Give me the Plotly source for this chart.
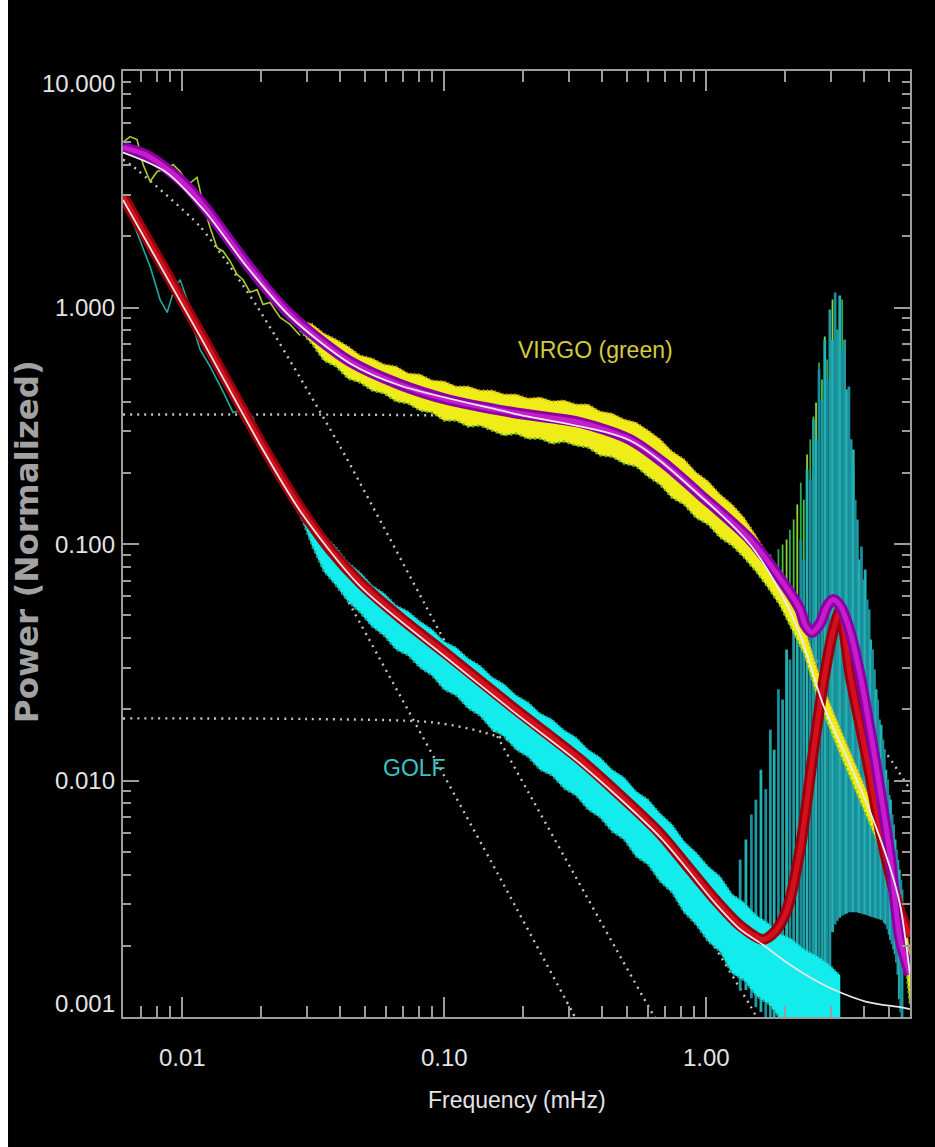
import math
import plotly.graph_objects as go

# ---------------- data (frequency in mHz, normalized power) ----------------
# fitted model for VIRGO (magenta)
virgo_fit_f = [0.00595, 0.007226, 0.008613, 0.010267, 0.01224, 0.01459, 0.01740, 0.02111, 0.02584, 0.03162,
               0.04378, 0.06793, 0.1027, 0.1834, 0.3304, 0.5128, 0.6853, 0.9487, 1.472, 1.967,
               2.285, 2.387, 2.539, 2.723, 2.896, 3.053, 3.247, 3.545, 3.871, 4.227,
               4.615, 5.039, 5.503, 6.006]
virgo_fit_p = [4.748, 4.436, 3.908, 3.312, 2.648, 2.036, 1.565, 1.192, 0.9342, 0.7690,
               0.5909, 0.4725, 0.4083, 0.3597, 0.3264, 0.2765, 0.2212, 0.1619, 0.1045, 0.06875,
               0.05285, 0.04566, 0.04224, 0.04611, 0.05442, 0.05826, 0.05495, 0.04266, 0.02806, 0.01643,
               0.00916, 0.004864, 0.002127, 0.001512]

# fitted model for GOLF (red)
golf_fit_f = [0.00595, 0.00824, 0.01171, 0.02038, 0.02821, 0.03672, 0.04779, 0.06793, 0.1027, 0.1834,
              0.3304, 0.5128, 0.6674, 0.8688, 1.0823, 1.348, 1.650, 1.834, 2.038, 2.285,
              2.561, 2.797, 3.053, 3.247, 3.545, 4.117, 4.738, 5.503, 6.006]
golf_fit_p = [2.946, 1.565, 0.7839, 0.2584, 0.1427, 0.09478, 0.06875, 0.04888, 0.03410, 0.02035,
              0.01227, 0.007914, 0.005970, 0.004205, 0.003139, 0.002437, 0.002127, 0.002298, 0.002848, 0.005107,
              0.01288, 0.02546, 0.04266, 0.05184, 0.02806, 0.01227, 0.005363, 0.002793, 0.00219]

# background models (white)
virgo_bg_f = [0.00595, 0.008613, 0.01224, 0.0174, 0.02584, 0.04378, 0.0679, 0.183, 0.513, 0.949,
              1.472, 1.916, 2.285, 2.797, 3.545, 4.227, 5.039, 5.503, 6.006]
virgo_bg_p = [4.52, 3.76, 2.546, 1.519, 0.916, 0.580, 0.468, 0.357, 0.274, 0.160,
              0.0995, 0.0630, 0.0414, 0.0210, 0.0117, 0.00739, 0.00429, 0.00299, 0.00151]
golf_bg_f = [0.00595, 0.0117, 0.0204, 0.02821, 0.04779, 0.1027, 0.1834, 0.3304, 0.6674, 1.0823,
             1.348, 1.65, 2.0, 2.5, 3.05, 4.1, 5.5, 6.006]
golf_bg_p = [2.85, 0.757, 0.249, 0.138, 0.0663, 0.0329, 0.0196, 0.0118, 0.00576, 0.00303,
             0.00235, 0.00202, 0.00172, 0.00147, 0.00131, 0.00116, 0.00110, 0.00108]

# individual background components (dotted)
comp_virgo_gran_f = [0.00595, 0.1054, 0.2538, 0.5128, 1.0, 1.608, 2.723, 3.871, 4.907, 6.006]
comp_virgo_gran_p = [0.353, 0.349, 0.336, 0.2765, 0.170, 0.0860, 0.0309, 0.0181, 0.0129, 0.00916]
comp_golf_gran_f = [0.00595, 0.0300, 0.0908, 0.1409, 0.2538, 0.5128, 0.8462, 1.036, 1.472, 1.60]
comp_golf_gran_p = [0.0183, 0.0182, 0.0176, 0.0160, 0.01255, 0.00638, 0.0030, 0.00213, 0.00112, 0.00095]
comp_virgo_low_f = [0.00595, 0.0065, 0.01171, 0.01933, 0.04009, 0.1082, 0.6276, 0.796]
comp_virgo_low_p = [4.225, 3.947, 2.200, 1.010, 0.2584, 0.03345, 0.001025, 0.00066]
comp_golf_low_f = [0.00595, 0.02038, 0.02821, 0.04264, 0.1594, 0.308, 0.3607]
comp_golf_low_p = [2.862, 0.2461, 0.1319, 0.05826, 0.004083, 0.001055, 0.000765]

# measured spectra: low-frequency traces
virgo_low_f = [0.00595, 0.00633, 0.00673, 0.00710, 0.00755, 0.00803, 0.00861, 0.00924, 0.00983, 0.01054,
               0.01141, 0.01203, 0.01279, 0.01360, 0.01434, 0.01525, 0.01621, 0.01709, 0.01817, 0.01933,
               0.02038, 0.02167, 0.02366, 0.02584, 0.02821]
virgo_low_p = [4.99, 5.28, 5.13, 4.02, 3.41, 3.76, 3.83, 4.02, 3.76, 3.31,
               3.55, 2.73, 2.18, 1.79, 1.73, 1.57, 1.38, 1.31, 1.16, 1.19,
               1.03, 1.05, 0.907, 0.848, 0.761]
golf_low_f = [0.00595, 0.00673, 0.00755, 0.00824, 0.00877, 0.00932, 0.00983, 0.01045, 0.01111, 0.01171,
              0.01279, 0.01434, 0.01565, 0.01709, 0.01866, 0.01985, 0.02167, 0.02366, 0.02584, 0.02821]
golf_low_p = [2.95, 2.08, 1.49, 1.08, 0.953, 1.19, 1.31, 1.08, 0.807, 0.665,
              0.563, 0.441, 0.360, 0.370, 0.343, 0.258, 0.239, 0.207, 0.162, 0.140]

# measured spectra: scatter envelopes (upper / lower) above 0.028 mHz
band_f = [0.0282, 0.0314, 0.0348, 0.0387, 0.0430, 0.0478, 0.0531, 0.0590, 0.0656, 0.0729,
          0.0810, 0.0900, 0.1000, 0.1111, 0.1235, 0.1372, 0.1525, 0.1694, 0.1883, 0.2092,
          0.2325, 0.2584, 0.2871, 0.3190, 0.3545, 0.3939, 0.4377, 0.4864, 0.5405, 0.6006,
          0.6674, 0.7416, 0.8241, 0.9158, 1.018, 1.131, 1.257, 1.396, 1.552, 1.724,
          1.916, 2.129, 2.366, 2.629, 2.922, 3.247, 3.608, 4.009, 4.455, 4.951,
          5.503, 5.801, 6.006]
virgo_hi = [0.880, 0.850, 0.776, 0.732, 0.684, 0.627, 0.609, 0.574, 0.563, 0.526,
            0.521, 0.491, 0.487, 0.463, 0.463, 0.446, 0.446, 0.429, 0.429, 0.412,
            0.416, 0.401, 0.404, 0.389, 0.389, 0.363, 0.356, 0.336, 0.326, 0.302,
            0.277, 0.246, 0.228, 0.2005, 0.184, 0.162, 0.147, 0.129, 0.108, 0.0886,
            0.0736, 0.0577, 0.0448, 0.0306, 0.0220, 0.0166, 0.0126, 0.00953, 0.00725, 0.00506,
            0.00336, 0.00244, 0.00184]
virgo_lo = [0.800, 0.700, 0.597, 0.563, 0.501, 0.482, 0.446, 0.433, 0.401, 0.393,
            0.367, 0.360, 0.333, 0.333, 0.314, 0.317, 0.302, 0.288, 0.293, 0.279,
            0.279, 0.266, 0.271, 0.261, 0.256, 0.237, 0.234, 0.219, 0.213, 0.193,
            0.1785, 0.157, 0.147, 0.129, 0.121, 0.1065, 0.0986, 0.0877, 0.0765, 0.0655,
            0.0550, 0.0435, 0.0344, 0.0236, 0.0173, 0.0130, 0.0099, 0.00747, 0.00569, 0.00393,
            0.00246, 0.00162, 0.00113]
golf_hi = [0.146, 0.128, 0.1086, 0.0967, 0.0835, 0.0758, 0.0668, 0.0618, 0.0550, 0.0518,
           0.0470, 0.0435, 0.0387, 0.0365, 0.0328, 0.0306, 0.0273, 0.0255, 0.0229, 0.0214,
           0.0192, 0.0181, 0.0163, 0.0152, 0.0135, 0.0125, 0.0111, 0.0103, 0.00899, 0.00831,
           0.00725, 0.00652, 0.00552, 0.00496, 0.00433, 0.00393, 0.00330, 0.00305, 0.00269, 0.00249,
           0.00225, 0.00213, 0.00193, 0.00182, 0.00168, 0.00150]
golf_lo = [0.134, 0.098, 0.0765, 0.0668, 0.0571, 0.0513, 0.0448, 0.0410, 0.0358, 0.0338,
           0.0300, 0.0278, 0.02425, 0.0229, 0.0202, 0.0188, 0.0164, 0.0154, 0.0135, 0.0126,
           0.0111, 0.0105, 0.00925, 0.00864, 0.00754, 0.00698, 0.00609, 0.00563, 0.00477, 0.00441,
           0.00374, 0.00336, 0.00277, 0.00246, 0.00209, 0.00189, 0.00153, 0.00143, 0.00123, 0.00114,
           0.00099, 0.00096, 0.00084, 0.00084, 0.00079, 0.00084]

# p-mode peaks
mode_f = [1.35, 1.42, 1.49, 1.55, 1.62, 1.69, 1.76, 1.82, 1.89, 1.96,
          2.03, 2.09, 2.16, 2.23, 2.30, 2.36, 2.43, 2.50, 2.57, 2.63,
          2.70, 2.77, 2.84, 2.90, 2.97, 3.04, 3.11, 3.17, 3.24, 3.31,
          3.38, 3.44, 3.51, 3.58, 3.65, 3.71, 3.78, 3.85, 3.92, 3.98,
          4.05, 4.12, 4.19, 4.25, 4.32, 4.39, 4.46, 4.52, 4.59, 4.66,
          4.73, 4.79, 4.86, 4.93, 5.00, 5.06, 5.13, 5.20, 5.27, 5.33,
          5.40, 5.47, 5.54, 5.60]
golf_mode_top = [0.00463, 0.00563, 0.00718, 0.0083, 0.0111, 0.0092, 0.0164, 0.0135, 0.0243, 0.022,
                 0.0358, 0.0325, 0.0582, 0.0529, 0.1045, 0.086, 0.2065, 0.1874, 0.336, 0.2767,
                 0.547, 0.408, 0.732, 0.496, 0.98, 0.73, 1.157, 0.807, 1.124, 0.664,
                 0.73, 0.45, 0.463, 0.277, 0.251, 0.154, 0.127, 0.086, 0.0976, 0.0708,
                 0.078, 0.0582, 0.0529, 0.0395, 0.0358, 0.0295, 0.0243, 0.022, 0.0181, 0.0172,
                 0.0149, 0.0135, 0.0111, 0.0101, 0.0087, 0.0083, 0.0072, 0.00652, 0.00563, 0.0051,
                 0.00463, 0.0042, 0.0038, 0.00346]
golf_mode_base = [0.0013, 0.0013, 0.0012, 0.0011, 0.00105, 0.00095, 0.00095, 0.00095, 0.00095, 0.00095,
                  0.00095, 0.00095, 0.00095, 0.00095, 0.00095, 0.00095, 0.00095, 0.00095, 0.00095, 0.00095,
                  0.00095, 0.00095, 0.00095, 0.00095, 0.0013, 0.00228, 0.00246, 0.00255, 0.00263, 0.00268,
                  0.00271, 0.00274, 0.00277, 0.00277, 0.00277, 0.00277, 0.00277, 0.00275, 0.00274, 0.00272,
                  0.00271, 0.00269, 0.00268, 0.00266, 0.00265, 0.00263, 0.00262, 0.0026, 0.00259, 0.00258,
                  0.00256, 0.0025, 0.00246, 0.00235, 0.00223, 0.00212, 0.00203, 0.00193, 0.00184, 0.0017,
                  0.00151, 0.00119, 0.00105, 0.00095]
virgo_mode_f = [1.76, 1.82, 1.89, 1.96, 2.03, 2.09, 2.16, 2.23, 2.30, 2.36,
                2.43, 2.50, 2.57, 2.63, 2.70, 2.77, 2.84, 2.90, 2.97, 3.04,
                3.11, 3.17, 3.24, 3.31, 3.38, 3.44, 3.51, 3.58, 3.65, 3.71,
                3.78, 3.85, 3.92, 3.98, 4.05, 4.12, 4.19, 4.25, 4.32, 4.39, 4.46]
virgo_mode_top = [0.0903, 0.082, 0.095, 0.0995, 0.1045, 0.115, 0.127, 0.147, 0.182, 0.154,
                  0.239, 0.277, 0.346, 0.397, 0.585, 0.496, 0.754, 0.603, 0.89, 1.08,
                  0.807, 0.73, 0.98, 1.08, 0.73, 0.408, 0.336, 0.228, 0.207, 0.127,
                  0.1045, 0.0708, 0.058, 0.048, 0.0395, 0.0358, 0.027, 0.022, 0.0181, 0.0149, 0.0123]
virgo_mode_base = [0.0648, 0.0612, 0.0577, 0.0534, 0.0503, 0.0475, 0.0439, 0.0414, 0.0383, 0.0358,
                   0.0325, 0.0295, 0.0267, 0.0243, 0.0222, 0.0202, 0.0185, 0.0174, 0.0163, 0.0154,
                   0.0145, 0.0138, 0.0128, 0.0122, 0.0114, 0.0107, 0.0102, 0.0096, 0.0092, 0.0087,
                   0.0082, 0.0078, 0.0074, 0.0070, 0.0067, 0.0064, 0.0060, 0.0057, 0.0055, 0.0053, 0.0050]

# axis ticks / labels
x_range = [0.00595, 6.006]
y_range = [0.001, 10.0]
x_tick_vals = [0.01, 0.1, 1.0]
x_tick_text = ["0.01", "0.10", "1.00"]
y_tick_vals = [10.0, 1.0, 0.1, 0.01, 0.001]
y_tick_text = ["10.000", "1.000", "0.100", "0.010", "0.001"]

# ---------------- figure ----------------
fig = go.Figure()


def add_line(x, y, color, width, dash=None, shape="linear", smoothing=1.0):
    fig.add_trace(go.Scatter(x=x, y=y, mode="lines",
                             line=dict(color=color, width=width, dash=dash, shape=shape, smoothing=smoothing),
                             hoverinfo="skip", showlegend=False))


def spike_xy(fs, lows, highs):
    xs, ys = [], []
    for f, a, b in zip(fs, lows, highs):
        xs += [f, f, None]
        ys += [a, b, None]
    return xs, ys


def add_band(fs, hi, lo, fill, edge_hi, edge_lo):
    fs = list(fs)
    fig.add_trace(go.Scatter(x=fs + fs[::-1], y=list(hi) + list(lo)[::-1],
                             mode="lines", fill="toself", fillcolor=fill,
                             line=dict(color=fill, width=0.5), hoverinfo="skip", showlegend=False))
    add_line(fs, hi, edge_hi, 2.5, "1px,3px")
    add_line(fs, lo, edge_lo, 2.5, "2px,3px")


DOT = "2px,5px"
DOTC = "#c4c4c4"
add_line(comp_virgo_gran_f, comp_virgo_gran_p, DOTC, 2.4, DOT, "spline", 0.8)
add_line(comp_golf_gran_f, comp_golf_gran_p, DOTC, 2.4, DOT, "spline", 0.8)
add_line(comp_virgo_low_f, comp_virgo_low_p, DOTC, 2.4, DOT, "spline", 0.6)
add_line(comp_golf_low_f, comp_golf_low_p, DOTC, 2.4, DOT, "spline", 0.6)

# p-mode peaks: VIRGO (green) then GOLF (teal)
vcols = ["#4cc23c", "#8fd23a", "#2fa84c"]
for k in range(3):
    xs, ys = spike_xy(virgo_mode_f[k::3], virgo_mode_base[k::3], virgo_mode_top[k::3])
    add_line(xs, ys, vcols[k], 1.8)
gcols = ["#1e9aa0", "#22b2b2", "#1a8c9c"]
for k in range(3):
    xs, ys = spike_xy(mode_f[k::3], golf_mode_base[k::3], golf_mode_top[k::3])
    add_line(xs, ys, gcols[k], 2.8)

# measured spectra
add_band(band_f[:len(golf_hi)], golf_hi, golf_lo, "#12ecec", "#1aa6a6", "#2a9c8c")
add_line(golf_low_f, golf_low_p, "#22a8a0", 1.6)
add_band(band_f, virgo_hi, virgo_lo, "#f0ec18", "#d8902a", "#6cc030")
add_line(virgo_low_f, virgo_low_p, "#a8cc30", 1.6)

# fitted models
add_line(golf_fit_f, golf_fit_p, "#9a000c", 11, None, "spline", 0.8)
add_line(golf_fit_f, golf_fit_p, "#d4101e", 5, None, "spline", 0.8)
add_line(virgo_fit_f, virgo_fit_p, "#8a00a6", 11, None, "spline", 0.8)
add_line(virgo_fit_f, virgo_fit_p, "#c81ccc", 5, None, "spline", 0.8)

# backgrounds
add_line(golf_bg_f, golf_bg_p, "#e6e6e6", 1.8, None, "spline", 0.8)
add_line(virgo_bg_f, virgo_bg_p, "#ececec", 1.8, None, "spline", 0.8)

AXC = "#9c9c9c"
common = dict(type="log", showgrid=False, zeroline=False, showline=True, linecolor=AXC, linewidth=2,
              mirror="allticks", ticks="inside", tickcolor=AXC, tickwidth=2, showticklabels=False,
              dtick=1)
fig.update_xaxes(range=[math.log10(x_range[0]), math.log10(x_range[1])], ticklen=20,
                 minor=dict(ticks="inside", ticklen=11, tickcolor=AXC, tickwidth=2, dtick="D1", showgrid=False),
                 **common)
fig.update_yaxes(range=[math.log10(y_range[0]), math.log10(y_range[1])], ticklen=16,
                 minor=dict(ticks="inside", ticklen=8, tickcolor=AXC, tickwidth=2, dtick="D1", showgrid=False),
                 **common)

FAM = "Liberation Sans, Arial, sans-serif"
LBL = dict(family=FAM, size=24, color="#e4e4e4")
ann = []
yshifts = {10.0: -12, 0.001: 14}
for v, t in zip(y_tick_vals, y_tick_text):
    ann.append(dict(x=0, xref="paper", xanchor="right", xshift=-6, y=math.log10(v), yref="y",
                    yanchor="middle", yshift=yshifts.get(v, 0), text=t, showarrow=False, font=LBL))
for v, t in zip(x_tick_vals, x_tick_text):
    ann.append(dict(x=math.log10(v), xref="x", xanchor="center", y=0, yref="paper", yanchor="middle",
                    yshift=-40, text=t, showarrow=False, font=LBL))
ann.append(dict(x=0.5, xref="paper", y=-0.0877, yref="paper", xanchor="center", yanchor="middle",
                text="Frequency (mHz)", showarrow=False, font=dict(family=FAM, size=23, color="#e4e4e4")))
ann.append(dict(x=-0.122, xref="paper", y=0.503, yref="paper", xanchor="center", yanchor="middle",
                text="Power (Normalized)", textangle=-90, showarrow=False,
                font=dict(family="DejaVu Sans, sans-serif", size=32.5, color="#a2a2a2", weight="bold")))
ann.append(dict(x=0.601, xref="paper", y=0.705, yref="paper", xanchor="center", yanchor="middle",
                text="VIRGO (green)", showarrow=False,
                font=dict(family=FAM, size=23, color="#d4cc3c")))
ann.append(dict(x=0.371, xref="paper", y=0.263, yref="paper", xanchor="center", yanchor="middle",
                text="GOLF", showarrow=False,
                font=dict(family=FAM, size=23, color="#3cc4c4")))

fig.update_layout(
    width=935, height=1147,
    margin=dict(l=123, r=25, t=71, b=130),
    paper_bgcolor="black", plot_bgcolor="black",
    showlegend=False,
    annotations=ann,
    shapes=[dict(type="rect", xref="paper", yref="paper", x0=-0.2, x1=-0.1461, y0=-0.2, y1=1.2,
                 fillcolor="white", line=dict(width=0), layer="above")],
)

fig.write_html("out.html")
